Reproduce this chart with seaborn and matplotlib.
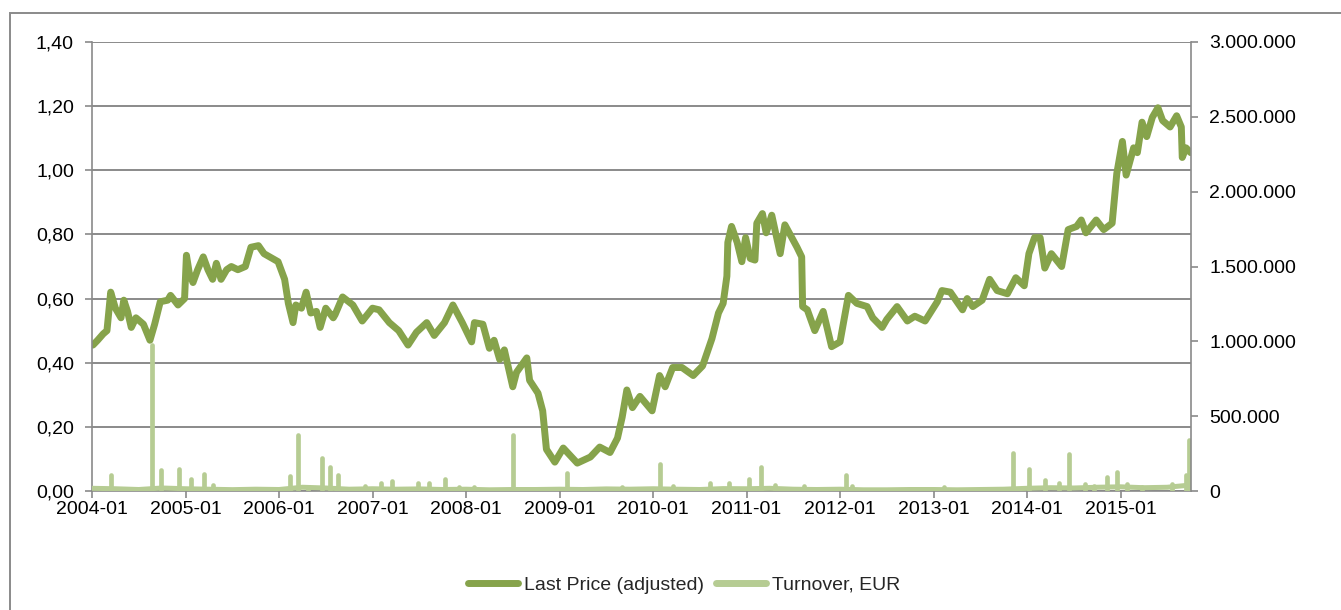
import seaborn as sns
import numpy as np
import matplotlib.pyplot as plt
import matplotlib.ticker as mticker
import matplotlib.dates as mdates
from matplotlib.lines import Line2D
from matplotlib.patches import Rectangle
import pandas as pd

# price (decimal year, EUR)
price_years = [2004.01, 2004.06, 2004.12, 2004.16, 2004.20, 2004.25, 2004.31, 2004.34, 2004.38, 2004.42,
               2004.47, 2004.55, 2004.62, 2004.67, 2004.73, 2004.81, 2004.84, 2004.92, 2004.99, 2005.01,
               2005.04, 2005.08, 2005.13, 2005.19, 2005.24, 2005.29, 2005.33, 2005.38, 2005.44, 2005.49,
               2005.56, 2005.64, 2005.70, 2005.78, 2005.84, 2005.90, 2005.99, 2006.06, 2006.10, 2006.15,
               2006.18, 2006.24, 2006.29, 2006.34, 2006.40, 2006.44, 2006.50, 2006.58, 2006.60, 2006.68,
               2006.79, 2006.89, 2007.00, 2007.07, 2007.18, 2007.28, 2007.38, 2007.47, 2007.58, 2007.66,
               2007.77, 2007.86, 2007.96, 2008.06, 2008.09, 2008.18, 2008.25, 2008.30, 2008.36, 2008.41,
               2008.50, 2008.54, 2008.65, 2008.68, 2008.77, 2008.82, 2008.86, 2008.95, 2009.04, 2009.19,
               2009.33, 2009.43, 2009.54, 2009.62, 2009.67, 2009.72, 2009.78, 2009.86, 2009.99, 2010.07,
               2010.13, 2010.21, 2010.31, 2010.43, 2010.53, 2010.63, 2010.70, 2010.75, 2010.79, 2010.80,
               2010.84, 2010.90, 2010.95, 2010.99, 2011.04, 2011.09, 2011.11, 2011.17, 2011.21, 2011.27,
               2011.36, 2011.41, 2011.54, 2011.59, 2011.60, 2011.65, 2011.73, 2011.82, 2011.91, 2012.00,
               2012.09, 2012.18, 2012.29, 2012.35, 2012.45, 2012.50, 2012.61, 2012.72, 2012.80, 2012.91,
               2013.04, 2013.09, 2013.18, 2013.31, 2013.36, 2013.42, 2013.52, 2013.60, 2013.68, 2013.79,
               2013.88, 2013.97, 2014.02, 2014.08, 2014.14, 2014.19, 2014.26, 2014.37, 2014.44, 2014.53,
               2014.58, 2014.63, 2014.74, 2014.82, 2014.91, 2014.96, 2015.02, 2015.06, 2015.14, 2015.18,
               2015.23, 2015.28, 2015.34, 2015.40, 2015.45, 2015.53, 2015.60, 2015.65, 2015.66, 2015.70,
               2015.75]
price_vals = [0.455, 0.47, 0.49, 0.50, 0.62, 0.57, 0.54, 0.595, 0.56, 0.51,
              0.54, 0.52, 0.47, 0.52, 0.59, 0.595, 0.61, 0.58, 0.60, 0.735,
              0.68, 0.65, 0.69, 0.73, 0.69, 0.66, 0.71, 0.66, 0.69, 0.70,
              0.69, 0.70, 0.76, 0.765, 0.74, 0.73, 0.715, 0.66, 0.585, 0.525,
              0.58, 0.57, 0.62, 0.555, 0.56, 0.51, 0.57, 0.54, 0.55, 0.605,
              0.58, 0.53, 0.57, 0.565, 0.525, 0.50, 0.455, 0.495, 0.525, 0.485,
              0.525, 0.58, 0.525, 0.465, 0.525, 0.52, 0.445, 0.47, 0.41, 0.44,
              0.325, 0.37, 0.415, 0.345, 0.305, 0.25, 0.13, 0.09, 0.134, 0.087,
              0.106, 0.137, 0.12, 0.165, 0.23, 0.315, 0.26, 0.295, 0.25, 0.36,
              0.325, 0.385, 0.385, 0.36, 0.39, 0.475, 0.555, 0.585, 0.67, 0.775,
              0.825, 0.775, 0.715, 0.79, 0.725, 0.72, 0.835, 0.865, 0.805, 0.86,
              0.74, 0.83, 0.76, 0.73, 0.575, 0.565, 0.50, 0.56, 0.45, 0.465,
              0.61, 0.585, 0.575, 0.54, 0.51, 0.535, 0.575, 0.53, 0.545, 0.53,
              0.59, 0.625, 0.62, 0.565, 0.60, 0.575, 0.595, 0.66, 0.625, 0.615,
              0.665, 0.64, 0.74, 0.79, 0.79, 0.695, 0.74, 0.70, 0.815, 0.825,
              0.845, 0.805, 0.845, 0.815, 0.835, 0.99, 1.09, 0.985, 1.07, 1.055,
              1.15, 1.105, 1.165, 1.195, 1.155, 1.135, 1.17, 1.135, 1.04, 1.07,
              1.055]

# turnover: low everyday level plus the visible spikes (EUR)
base_years = [2004.00, 2004.25, 2004.50, 2004.75, 2005.00, 2005.25, 2005.50, 2005.75, 2006.00, 2006.25,
              2006.50, 2006.75, 2007.00, 2007.25, 2007.50, 2007.75, 2008.00, 2008.25, 2008.50, 2008.75,
              2009.00, 2009.25, 2009.50, 2009.75, 2010.00, 2010.25, 2010.50, 2010.75, 2011.00, 2011.25,
              2011.50, 2011.75, 2012.00, 2012.25, 2012.50, 2012.75, 2013.00, 2013.25, 2013.50, 2013.75,
              2014.00, 2014.25, 2014.50, 2014.75, 2015.00, 2015.25, 2015.50, 2015.75]
base_vals = [18000, 15000, 10000, 20000, 15000, 12000, 9000, 12000, 10000, 25000,
             20000, 12000, 15000, 12000, 14000, 10000, 12000, 8000, 10000, 10000,
             12000, 10000, 14000, 12000, 15000, 12000, 10000, 16000, 15000, 18000,
             12000, 10000, 12000, 8000, 8000, 10000, 10000, 8000, 10000, 12000,
             18000, 22000, 20000, 25000, 28000, 22000, 25000, 40000]
spike_years = [2004.20, 2004.64, 2004.74, 2004.93, 2005.06, 2005.20, 2005.29, 2006.12, 2006.20, 2006.31,
               2006.46, 2006.55, 2006.63, 2006.92, 2007.09, 2007.21, 2007.49, 2007.60, 2007.78, 2007.93,
               2008.09, 2008.50, 2009.08, 2009.67, 2010.07, 2010.21, 2010.61, 2010.81, 2011.03, 2011.16,
               2011.30, 2011.61, 2012.06, 2012.13, 2013.11, 2013.85, 2014.02, 2014.19, 2014.34, 2014.45,
               2014.62, 2014.72, 2014.85, 2014.96, 2015.07, 2015.23, 2015.55, 2015.70, 2015.73]
spike_vals = [110000, 975000, 140000, 150000, 80000, 113000, 40000, 100000, 375000, 30000,
              220000, 160000, 110000, 35000, 53000, 67000, 53000, 53000, 80000, 25000,
              27000, 375000, 120000, 25000, 180000, 33000, 53000, 53000, 80000, 160000,
              40000, 33000, 110000, 33000, 25000, 255000, 150000, 73000, 53000, 250000,
              47000, 35000, 95000, 125000, 47000, 25000, 47000, 110000, 340000]


def to_dates(years):
    years = np.asarray(years, dtype=float)
    return pd.Timestamp("2004-01-01") + pd.to_timedelta((years - 2004) * 365.25, unit="D")


price = pd.DataFrame({"date": to_dates(price_years), "price": price_vals})
base = pd.DataFrame({"date": to_dates(base_years), "turnover": base_vals})
spikes = pd.DataFrame({"date": to_dates(spike_years), "turnover": spike_vals})

sns.set_style("white")
plt.rcParams["font.family"] = ["Liberation Sans", "DejaVu Sans"]

dark = "#86A34B"
light = "#B6CC93"
grey = "#8A8A8A"
fs = 14

fig = plt.figure(figsize=(13.41, 6.10), dpi=100)
ax = fig.add_axes([92 / 1341, 1 - 491 / 610, (1191 - 92) / 1341, (491 - 42) / 610])
ax2 = ax.twinx()

# price on the left axis
sns.lineplot(data=price, x="date", y="price", ax=ax, color=dark, lw=5,
             solid_joinstyle="round", solid_capstyle="round")

# turnover on the right axis
sns.lineplot(data=base, x="date", y="turnover", ax=ax2, color=light, lw=3.6,
             solid_joinstyle="round")
lc = ax2.vlines(spikes["date"], 0, spikes["turnover"], color=light, lw=3.4)
lc.set_capstyle("round")

ax.set_ylim(0, 1.4)
ax.set_yticks(np.arange(0, 1.41, 0.2))
ax.yaxis.set_major_formatter(mticker.FuncFormatter(lambda v, p: f"{v:.2f}".replace(".", ",")))
ax2.set_ylim(0, 3000000)
ax2.set_yticks(np.arange(0, 3000001, 500000))
ax2.yaxis.set_major_formatter(mticker.FuncFormatter(lambda v, p: f"{int(v):,}".replace(",", ".")))

ax.set_xlim(pd.Timestamp("2004-01-01"), pd.Timestamp("2015-10-03"))
ax.set_xticks([pd.Timestamp(f"{y}-01-01") for y in range(2004, 2016)])
ax.xaxis.set_major_formatter(mdates.DateFormatter("%Y-%m"))

ax.grid(axis="y", color=grey, lw=1.4)
ax.grid(axis="x", visible=False)
ax2.grid(False)
ax.set_xlabel("")
ax.set_ylabel("")
ax2.set_ylabel("")

for a in (ax, ax2):
    for s in a.spines.values():
        s.set_color(grey)
        s.set_linewidth(1.2)
    a.spines["top"].set_visible(False)
ax.spines["right"].set_visible(False)
ax2.spines["left"].set_visible(False)
ax2.spines["bottom"].set_visible(False)

ax.tick_params(axis="y", length=5, width=1.2, color=grey, pad=8, labelsize=fs, labelcolor="black")
ax.tick_params(axis="x", length=5, width=1.2, color=grey, pad=2, labelsize=fs, labelcolor="black",
               bottom=True)
ax2.tick_params(axis="y", length=5, width=1.2, color=grey, pad=8, labelsize=fs, labelcolor="black",
                right=True)

# outer chart frame (cut at the right and bottom edges)
fig.patches.append(Rectangle((10 / 1341, -0.1), 1.2, 1 - 13 / 610 + 0.1, transform=fig.transFigure,
                             fill=False, edgecolor=grey, lw=1.4))

handles = [Line2D([], [], color=dark, lw=5, solid_capstyle="round"),
           Line2D([], [], color=light, lw=5, solid_capstyle="round")]
fig.legend(handles, ["Last Price (adjusted)", "Turnover, EUR"], loc="center",
           bbox_to_anchor=(684 / 1341, 1 - 585 / 610), ncol=2, frameon=False, fontsize=fs,
           handlelength=2.6, handletextpad=0.3, columnspacing=0.6)

plt.savefig("out.png", dpi=100)
